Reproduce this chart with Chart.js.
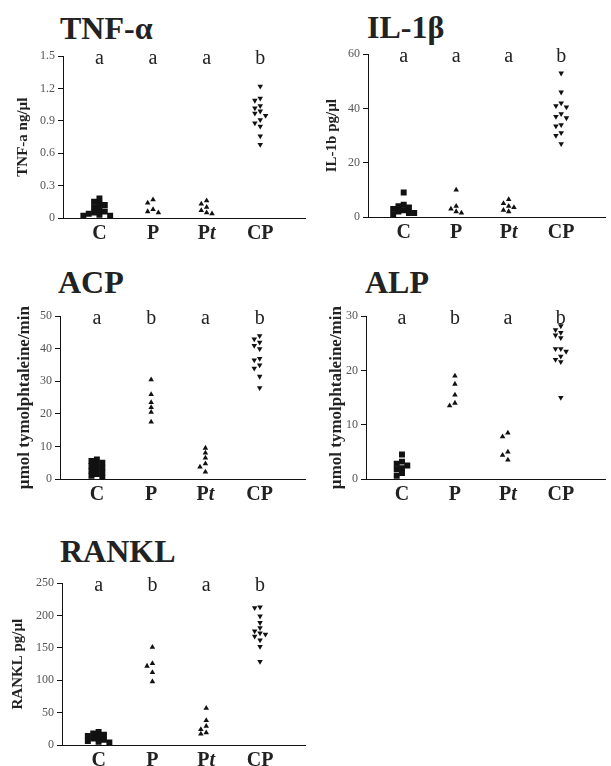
<!DOCTYPE html>
<html>
<head>
<meta charset="utf-8">
<script src="https://cdn.jsdelivr.net/npm/chart.js@4.4.0/dist/chart.umd.min.js"></script>
<style>
  body { margin: 0; background: #fff; width: 611px; height: 766px; position: relative; overflow: hidden; }
  .panel-title { position: absolute; font: bold 32px/32px "Liberation Serif", serif; color: #222; white-space: nowrap; }
  canvas { position: absolute; }
</style>
</head>
<body>
<div class="panel-title" style="left:60px;top:12px">TNF-α</div>
<div class="panel-title" style="left:367px;top:11px">IL-1β</div>
<div class="panel-title" style="left:58px;top:266px">ACP</div>
<div class="panel-title" style="left:365px;top:266px">ALP</div>
<div class="panel-title" style="left:60px;top:535px">RANKL</div>
<canvas id="tnf"></canvas>
<canvas id="il1b"></canvas>
<canvas id="acp"></canvas>
<canvas id="alp"></canvas>
<canvas id="rankl"></canvas>
<script>
// Groups on the x axis (lowercase letters are drawn in italic)
const groups = ['C', 'P', 'Pt', 'CP'];

// TNF-alpha, ng/ul
const tnfC = [0.18, 0.15, 0.13, 0.12, 0.1, 0.08, 0.06, 0.05, 0.04, 0.03, 0.02, 0.02];
const tnfP = [0.17, 0.14, 0.08, 0.06, 0.05];
const tnfPt = [0.16, 0.13, 0.1, 0.07, 0.05, 0.04];
const tnfCP = [1.22, 1.11, 1.09, 1.04, 1.02, 0.99, 0.97, 0.95, 0.91, 0.88, 0.85, 0.76, 0.68];
const tnfTicks = [0, 0.3, 0.6, 0.9, 1.2, 1.5];
const tnfLetters = ['a', 'a', 'a', 'b'];

// IL-1beta, pg/ul
const ilC = [9, 4.5, 4, 3.5, 3, 2.5, 2, 1.5, 1, 1.5];
const ilP = [10, 4, 3, 2, 1.5];
const ilPt = [6.5, 5, 4, 3.5, 2.5, 2];
const ilCP = [53, 46, 42, 41, 40.5, 38, 37, 36.5, 34, 33.5, 31, 30, 27];
const ilTicks = [0, 20, 40, 60];
const ilLetters = ['a', 'a', 'a', 'b'];

// ACP, umol tymolphtaleine/min
const acpC = [6, 5.5, 5, 4.5, 4, 3.5, 3, 2.5, 2, 1.5, 1, 0.5];
const acpP = [30.5, 26, 23.5, 22, 20.5, 17.5];
const acpPt = [9.5, 8, 6.5, 4.7, 3.7, 2.2];
const acpCP = [44, 43, 42, 41, 40, 37, 36.5, 35, 34, 31.5, 28];
const acpTicks = [0, 10, 20, 30, 40, 50];
const acpLetters = ['a', 'b', 'a', 'b'];

// ALP, umol tymolphtaleine/min
const alpC = [4.5, 3.2, 2.8, 2.5, 2, 1.8, 1.1, 0.6];
const alpP = [19, 17.5, 15.5, 14, 13.5];
const alpPt = [8.5, 7.8, 5, 4.4, 3.5];
const alpCP = [28.2, 27.5, 27, 26.5, 26, 24, 24, 23.5, 22.6, 22, 21.6, 15];
const alpTicks = [0, 10, 20, 30];
const alpLetters = ['a', 'b', 'a', 'b'];

// RANKL, pg/ul
const rankC = [20, 18, 16, 14, 12, 10, 8, 6, 5, 4];
const rankP = [151, 126, 122, 112, 98];
const rankPt = [57, 38, 29, 24, 19, 17];
const rankCP = [213, 212, 199, 189, 181, 176, 173, 171, 168, 162, 152, 129];
const rankTicks = [0, 50, 100, 150, 200, 250];
const rankLetters = ['a', 'b', 'a', 'b'];

const SERIF = '"Liberation Serif", "Times New Roman", serif';

// spread points that would overlap sideways, like a dot plot
function swarm(values, yMax) {
    const thr = yMax * 0.028;
    const placed = [];
    return values.map(v => {
        for (let k = 0; ; k++) {
            const slot = k === 0 ? 0 : (k % 2 ? -(k + 1) / 2 : k / 2);
            if (k > 4 || !placed.some(p => p.slot === slot && Math.abs(p.v - v) < thr)) {
                placed.push({ v: v, slot: slot });
                return slot;
            }
        }
    });
}

// letters above the groups and the group names under the axis
const groupText = {
    id: 'groupText',
    afterDraw(chart, args, opts) {
        const { ctx, chartArea } = chart;
        const x = chart.scales.x;
        ctx.save();
        ctx.fillStyle = '#222';
        ctx.textAlign = 'center';
        ctx.textBaseline = 'middle';
        ctx.font = '20px ' + SERIF;
        opts.letters.forEach((l, i) => ctx.fillText(l, x.getPixelForValue(i), chartArea.top + 3));

        ctx.textAlign = 'left';
        ctx.textBaseline = 'alphabetic';
        groups.forEach((g, i) => {
            const parts = g.split('').map(ch => ({
                ch: ch,
                font: (ch === ch.toLowerCase() ? 'italic bold ' : 'bold ') + '20px ' + SERIF
            }));
            let w = 0;
            parts.forEach(p => { ctx.font = p.font; p.w = ctx.measureText(p.ch).width; w += p.w; });
            let px = x.getPixelForValue(i) - w / 2;
            parts.forEach(p => { ctx.font = p.font; ctx.fillText(p.ch, px, chartArea.bottom + 21); px += p.w; });
        });
        ctx.restore();
    }
};

const styles = [
    { pointStyle: 'rect', radius: 4.2, rotation: 0 },
    { pointStyle: 'triangle', radius: 3.2, rotation: 0 },
    { pointStyle: 'triangle', radius: 3.2, rotation: 0 },
    { pointStyle: 'triangle', radius: 3.2, rotation: 180 }
];

function drawPanel(id, series, ticks, letters, yTitle, titleSize, box) {
    const yMax = ticks[ticks.length - 1];
    const canvas = document.getElementById(id);
    const w = box.right - box.canvasLeft + 2;
    const h = box.bottom - box.top + 38;
    canvas.width = w;
    canvas.height = h;
    canvas.style.left = box.canvasLeft + 'px';
    canvas.style.top = (box.top - 10) + 'px';
    canvas.style.width = w + 'px';
    canvas.style.height = h + 'px';

    const datasets = series.map((vals, i) => {
        const offs = swarm(vals, yMax);
        return {
            data: vals.map((v, j) => ({ x: i + offs[j] * 0.1, y: v })),
            pointStyle: styles[i].pointStyle,
            pointRadius: styles[i].radius,
            rotation: styles[i].rotation,
            backgroundColor: '#111',
            borderColor: '#111',
            borderWidth: 0
        };
    });

    new Chart(canvas, {
        type: 'scatter',
        data: { datasets: datasets },
        options: {
            responsive: false,
            animation: false,
            layout: { padding: { top: 10, right: 2, left: 0, bottom: 0 } },
            plugins: {
                legend: { display: false },
                tooltip: { enabled: false },
                groupText: { letters: letters }
            },
            scales: {
                x: {
                    type: 'linear',
                    min: -0.68,
                    max: 3.85,
                    ticks: { display: false },
                    grid: { display: true, drawOnChartArea: false, drawTicks: false },
                    border: { display: true, color: '#111', width: 1 },
                    afterFit: function(scale) { scale.height = 28; }
                },
                y: {
                    min: 0,
                    max: yMax,
                    afterBuildTicks: function(scale) { scale.ticks = ticks.map(v => ({ value: v })); },
                    ticks: {
                        color: '#555',
                        padding: 3,
                        font: { family: SERIF, size: 12 },
                        callback: function(value) {
                            return yMax < 2 && value !== 0 ? value.toFixed(1) : String(value);
                        }
                    },
                    grid: { display: true, drawOnChartArea: false, drawTicks: true, tickLength: 5, color: '#111' },
                    border: { display: true, color: '#111', width: 1 },
                    title: {
                        display: true,
                        text: yTitle,
                        color: '#222',
                        font: { family: SERIF, size: titleSize, weight: 'bold' },
                        padding: { top: box.titleX - titleSize * 0.6, bottom: 0 }
                    },
                    afterFit: function(scale) { scale.width = box.axisX - box.canvasLeft; }
                }
            }
        },
        plugins: [groupText]
    });
}

drawPanel('tnf', [tnfC, tnfP, tnfPt, tnfCP], tnfTicks, tnfLetters, 'TNF-a ng/µl', 15,
    { canvasLeft: 0, axisX: 63, top: 56, bottom: 218, right: 308, titleX: 23 });
drawPanel('il1b', [ilC, ilP, ilPt, ilCP], ilTicks, ilLetters, 'IL-1b pg/µl', 15,
    { canvasLeft: 300, axisX: 368, top: 54, bottom: 217, right: 608, titleX: 32 });
drawPanel('acp', [acpC, acpP, acpPt, acpCP], acpTicks, acpLetters, 'µmol tymolphtaleine/min', 17,
    { canvasLeft: 0, axisX: 60, top: 316, bottom: 479, right: 308, titleX: 25 });
drawPanel('alp', [alpC, alpP, alpPt, alpCP], alpTicks, alpLetters, 'µmol tymolphtaleine/min', 17,
    { canvasLeft: 300, axisX: 366, top: 316, bottom: 479, right: 608, titleX: 37 });
drawPanel('rankl', [rankC, rankP, rankPt, rankCP], rankTicks, rankLetters, 'RANKL pg/µl', 15,
    { canvasLeft: 0, axisX: 62, top: 583, bottom: 745, right: 308, titleX: 18 });
</script>
</body>
</html>
